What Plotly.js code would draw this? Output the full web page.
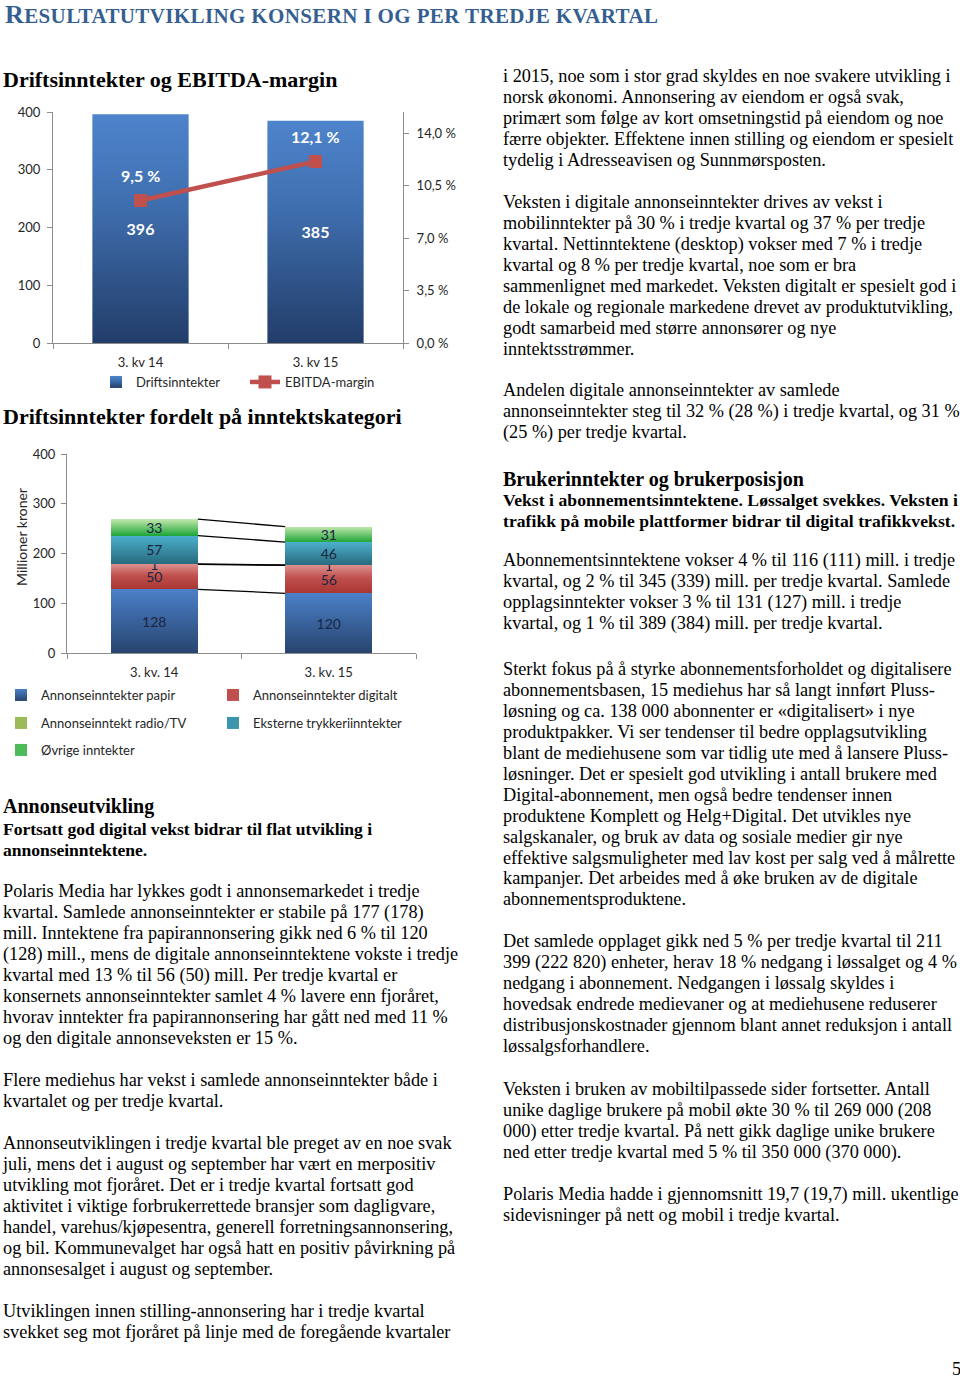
<!DOCTYPE html>
<html>
<head>
<meta charset="utf-8">
<script src="https://cdn.plot.ly/plotly-3.0.1.min.js"></script>
<style>
html,body{margin:0;padding:0;background:#fff;}
#page{position:relative;width:960px;height:1378px;overflow:hidden;background:#fff;}
.t{position:absolute;white-space:nowrap;font-family:"Liberation Serif","Times New Roman",serif;color:#000;}
.body{font-size:18.25px;line-height:20.9px;}
.bold{font-weight:bold;}
.sub{font-size:17.6px;}
.h2{font-size:20px;line-height:24px;font-weight:bold;}
.h1{font-size:22px;line-height:26px;font-weight:bold;}
#title{left:5px;top:0;color:#365f91;font-weight:bold;font-size:21px;line-height:30px;}
#title .cap{font-size:26px;}
.chart{position:absolute;left:0;}
</style>
</head>
<body>
<div id="page">
  <div id="title" class="t"><span class="cap">R</span>ESULTATUTVIKLING KONSERN I OG PER TREDJE KVARTAL</div>

  <div class="t h1" data-b="87" style="left:3px">Driftsinntekter og EBITDA-margin</div>
  <div id="chart1" class="chart" style="top:95px;width:470px;height:300px"></div>

  <div class="t h1" data-b="424" style="left:3px">Driftsinntekter fordelt på inntektskategori</div>
  <div id="chart2" class="chart" style="top:430px;width:470px;height:350px"></div>

  <!-- left column text -->
  <div class="t h2" data-b="813" style="left:3px">Annonseutvikling</div>
  <div class="t body bold sub" data-b="835" data-w="369" style="left:3px"><span class="l1">Fortsatt god digital vekst bidrar til flat utvikling i</span><br>annonseinntektene.</div>
  <div class="t body" data-b="898" style="left:3px">Polaris Media har lykkes godt i annonsemarkedet i tredje<br>kvartal. Samlede annonseinntekter er stabile på 177 (178)<br>mill. Inntektene fra papirannonsering gikk ned 6 % til 120<br>(128) mill., mens de digitale annonseinntektene vokste i tredje<br>kvartal med 13 % til 56 (50) mill. Per tredje kvartal er<br>konsernets annonseinntekter samlet 4 % lavere enn fjoråret,<br>hvorav inntekter fra papirannonsering har gått ned med 11 %<br>og den digitale annonseveksten er 15 %.</div>
  <div class="t body" data-b="1087" style="left:3px">Flere mediehus har vekst i samlede annonseinntekter både i<br>kvartalet og per tredje kvartal.</div>
  <div class="t body" data-b="1150" style="left:3px">Annonseutviklingen i tredje kvartal ble preget av en noe svak<br>juli, mens det i august og september har vært en merpositiv<br>utvikling mot fjoråret. Det er i tredje kvartal fortsatt god<br>aktivitet i viktige forbrukerrettede bransjer som dagligvare,<br>handel, varehus/kjøpesentra, generell forretningsannonsering,<br>og bil. Kommunevalget har også hatt en positiv påvirkning på<br>annonsesalget i august og september.</div>
  <div class="t body" data-b="1318" style="left:3px">Utviklingen innen stilling-annonsering har i tredje kvartal<br>svekket seg mot fjoråret på linje med de foregående kvartaler</div>

  <!-- right column text -->
  <div class="t body" data-b="83" style="left:503px">i 2015, noe som i stor grad skyldes en noe svakere utvikling i<br>norsk økonomi. Annonsering av eiendom er også svak,<br>primært som følge av kort omsetningstid på eiendom og noe<br>færre objekter. Effektene innen stilling og eiendom er spesielt<br>tydelig i Adresseavisen og Sunnmørsposten.</div>
  <div class="t body" data-b="209" style="left:503px">Veksten i digitale annonseinntekter drives av vekst i<br>mobilinntekter på 30 % i tredje kvartal og 37 % per tredje<br>kvartal. Nettinntektene (desktop) vokser med 7 % i tredje<br>kvartal og 8 % per tredje kvartal, noe som er bra<br>sammenlignet med markedet. Veksten digitalt er spesielt god i<br>de lokale og regionale markedene drevet av produktutvikling,<br>godt samarbeid med større annonsører og nye<br>inntektsstrømmer.</div>
  <div class="t body" data-b="397" style="left:503px">Andelen digitale annonseinntekter av samlede<br>annonseinntekter steg til 32 % (28 %) i tredje kvartal, og 31 %<br>(25 %) per tredje kvartal.</div>
  <div class="t h2" data-b="486" style="left:503px">Brukerinntekter og brukerposisjon</div>
  <div class="t body bold sub" data-b="506" data-w="455" style="left:503px"><span class="l1">Vekst i abonnementsinntektene. Løssalget svekkes. Veksten i</span><br>trafikk på mobile plattformer bidrar til digital trafikkvekst.</div>
  <div class="t body" data-b="567" style="left:503px">Abonnementsinntektene vokser 4 % til 116 (111) mill. i tredje<br>kvartal, og 2 % til 345 (339) mill. per tredje kvartal. Samlede<br>opplagsinntekter vokser 3 % til 131 (127) mill. i tredje<br>kvartal, og 1 % til 389 (384) mill. per tredje kvartal.</div>
  <div class="t body" data-b="676" style="left:503px">Sterkt fokus på å styrke abonnementsforholdet og digitalisere<br>abonnementsbasen, 15 mediehus har så langt innført Pluss-<br>løsning og ca. 138 000 abonnenter er «digitalisert» i nye<br>produktpakker. Vi ser tendenser til bedre opplagsutvikling<br>blant de mediehusene som var tidlig ute med å lansere Pluss-<br>løsninger. Det er spesielt god utvikling i antall brukere med<br>Digital-abonnement, men også bedre tendenser innen<br>produktene Komplett og Helg+Digital. Det utvikles nye<br>salgskanaler, og bruk av data og sosiale medier gir nye<br>effektive salgsmuligheter med lav kost per salg ved å målrette<br>kampanjer. Det arbeides med å øke bruken av de digitale<br>abonnementsproduktene.</div>
  <div class="t body" data-b="948" style="left:503px">Det samlede opplaget gikk ned 5 % per tredje kvartal til 211<br>399 (222 820) enheter, herav 18 % nedgang i løssalget og 4 %<br>nedgang i abonnement. Nedgangen i løssalg skyldes i<br>hovedsak endrede medievaner og at mediehusene reduserer<br>distribusjonskostnader gjennom blant annet reduksjon i antall<br>løssalgsforhandlere.</div>
  <div class="t body" data-b="1096" style="left:503px">Veksten i bruken av mobiltilpassede sider fortsetter. Antall<br>unike daglige brukere på mobil økte 30 % til 269 000 (208<br>000) etter tredje kvartal. På nett gikk daglige unike brukere<br>ned etter tredje kvartal med 5 % til 350 000 (370 000).</div>
  <div class="t body" data-b="1201" style="left:503px">Polaris Media hadde i gjennomsnitt 19,7 (19,7) mill. ukentlige<br>sidevisninger på nett og mobil i tredje kvartal.</div>
  <div class="t body" data-b="1376" style="left:952px">5</div>
</div>

<script>
// ---------- DATA ----------
const quarters1 = ['3. kv 14', '3. kv 15'];
const driftsinntekter = [396, 385];          // mill. kr
const ebitdaMargin = [9.5, 12.1];            // %

const quarters2 = ['3. kv. 14', '3. kv. 15'];
const seriesNames = ['Annonseinntekter papir', 'Annonseinntekter digitalt',
  'Annonseinntekt radio/TV', 'Eksterne trykkeriinntekter', 'Øvrige inntekter'];
const annPapir = [128, 120];
const annDigitalt = [50, 56];
const annRadioTV = [1, 1];
const trykkeri = [57, 46];
const ovrige = [33, 31];

// ---------- text sizing / placement ----------
document.querySelectorAll('.t[data-w]').forEach(el => {
  const l1 = el.querySelector('.l1');
  const w = l1.getBoundingClientRect().width;
  const n = l1.textContent.length;
  el.style.letterSpacing = ((parseFloat(el.dataset.w) - w) / n) + 'px';
});
document.querySelectorAll('.t[data-b]').forEach(el => {
  const cs = getComputedStyle(el);
  const F = parseFloat(cs.fontSize), L = parseFloat(cs.lineHeight);
  const off = (L - 1.107 * F) / 2 + 0.891 * F;
  el.style.top = (parseFloat(el.dataset.b) - off) + 'px';
});
(function fitTitle() {
  const t = document.getElementById('title');
  const w = t.getBoundingClientRect().width;
  const n = t.textContent.length;
  t.style.letterSpacing = ((653 - w) / (n - 1)) + 'px';
})();

// ---------- helpers ----------
const NS = 'http://www.w3.org/2000/svg';
function addGradients(gd, grads) {
  const svg = gd.querySelector('svg.main-svg');
  let defs = svg.querySelector('defs');
  if (!defs) { defs = document.createElementNS(NS, 'defs'); svg.insertBefore(defs, svg.firstChild); }
  grads.forEach(g => {
    const lg = document.createElementNS(NS, 'linearGradient');
    lg.setAttribute('id', g.id);
    lg.setAttribute('x1', '0'); lg.setAttribute('y1', '0');
    lg.setAttribute('x2', '0'); lg.setAttribute('y2', '1');
    g.stops.forEach(([o, c]) => {
      const s = document.createElementNS(NS, 'stop');
      s.setAttribute('offset', o); s.setAttribute('stop-color', c);
      lg.appendChild(s);
    });
    defs.appendChild(lg);
  });
  gd.querySelectorAll('.barlayer .trace.bars').forEach((tr, i) => {
    if (grads[i]) tr.querySelectorAll('path').forEach(p => { p.style.fill = 'url(#' + grads[i].id + ')'; });
  });
  gd.querySelectorAll('g.traces').forEach(item => {
    const txt = item.querySelector('.legendtext');
    if (!txt) return;
    const g = grads.find(g => g.name === txt.textContent);
    if (g) item.querySelectorAll('.legendpoints path').forEach(p => { p.style.fill = 'url(#' + g.id + ')'; });
  });
}

const chartFont = 'Lato, "Open Sans", sans-serif';
const tickFont = {family: chartFont, size: 13, color: '#262626'};
const axisCol = '#8c8c8c';
const legendFont = {family: chartFont, size: 13, color: '#262626'};
const fmtPct = v => v.toFixed(1).replace('.', ',') + ' %';

// ---------- CHART 1 ----------
const c1 = document.getElementById('chart1');
Plotly.newPlot(c1, [
  {
    type: 'bar', x: quarters1, y: driftsinntekter, name: 'Driftsinntekter', width: 0.55,
    marker: {color: '#3b679f'},
    text: driftsinntekter.map(String), textposition: 'inside', insidetextanchor: 'middle', textangle: 0,
    textfont: {family: chartFont, size: 16, color: '#ffffff', weight: 'bold'},
    legend: 'legend', hoverinfo: 'skip'
  },
  {
    type: 'scatter', mode: 'lines+markers', x: quarters1, y: ebitdaMargin, yaxis: 'y2',
    name: 'EBITDA-margin',
    line: {color: '#c0504d', width: 4.5},
    marker: {symbol: 'square', size: 13, color: '#c0504d'},
    legend: 'legend2', hoverinfo: 'skip'
  }
], {
  width: 470, height: 300,
  margin: {l: 53, r: 67, t: 17, b: 52},
  paper_bgcolor: 'rgba(0,0,0,0)', plot_bgcolor: 'rgba(0,0,0,0)',
  separators: ', ',
  font: {family: chartFont, size: 13, color: '#262626'},
  xaxis: {type: 'category', tickson: 'boundaries', ticks: 'outside', ticklen: 5, tickcolor: axisCol,
          showline: true, linecolor: axisCol, showgrid: false, zeroline: false, tickfont: tickFont,
          ticklabelstandoff: 7},
  yaxis: {range: [0, 400], dtick: 100, ticks: 'outside', ticklen: 5, tickcolor: axisCol,
          showline: true, linecolor: axisCol, showgrid: false, zeroline: false, tickfont: tickFont,
          ticklabelstandoff: 4},
  yaxis2: {overlaying: 'y', side: 'right', range: [0, 15.4], tick0: 0, dtick: 3.5, tickformat: '.1f',
           ticksuffix: ' %', ticks: 'outside', ticklen: 5, tickcolor: axisCol,
           showline: true, linecolor: axisCol, showgrid: false, zeroline: false, tickfont: tickFont,
           ticklabelstandoff: 5},
  showlegend: true,
  legend: {orientation: 'h', xref: 'container', yref: 'container', x: 96 / 470, y: 1 - 287 / 300,
           xanchor: 'left', yanchor: 'middle', font: legendFont, bgcolor: 'rgba(0,0,0,0)'},
  legend2: {orientation: 'h', xref: 'container', yref: 'container', x: 245 / 470, y: 1 - 287 / 300,
            xanchor: 'left', yanchor: 'middle', font: legendFont, bgcolor: 'rgba(0,0,0,0)'},
  annotations: ebitdaMargin.map((v, i) => ({
    x: quarters1[i], y: v, xref: 'x', yref: 'y2', text: fmtPct(v), showarrow: false, yshift: 25,
    font: {family: chartFont, size: 16, color: '#ffffff', weight: 'bold'}
  }))
}, {staticPlot: true, displayModeBar: false}).then(gd => {
  addGradients(gd, [
    {id: 'g1drift', name: 'Driftsinntekter', stops: [['0', '#4e84cc'], ['0.4', '#3f6eae'], ['1', '#223d69']]}
  ]);
});

// ---------- CHART 2 ----------
const seriesVals = [annPapir, annDigitalt, annRadioTV, trykkeri, ovrige];
const segColors = ['#3f6fb0', '#c0504d', '#9bbb59', '#3d95ad', '#4cbb5a'];
const xPos = quarters2.map((_, i) => i);
const barW = 0.5;
const legendIds = ['legend', 'legend2', 'legend3', 'legend4', 'legend5'];

const traces2 = seriesVals.map((vals, k) => ({
  type: 'bar', x: xPos, y: vals, name: seriesNames[k], width: barW,
  marker: {color: segColors[k]},
  text: vals.map(String), textposition: 'inside', insidetextanchor: 'middle', textangle: 0,
  textfont: {family: chartFont, size: 14, color: '#1c2541'},
  legend: legendIds[k], hoverinfo: 'skip'
}));
// series connector lines between stacked segment tops
const cum = [];
seriesVals.forEach((vals, k) => {
  cum[k] = vals.map((v, i) => v + (k > 0 ? cum[k - 1][i] : 0));
});
cum.forEach(c => {
  traces2.push({
    type: 'scatter', mode: 'lines', x: [xPos[0] + barW / 2, xPos[1] - barW / 2], y: c,
    line: {color: '#000000', width: 1.3}, showlegend: false, hoverinfo: 'skip'
  });
});

const legTextX = [41, 253, 41, 253, 41];
const legRowY = [265, 265, 293, 293, 320];
const legendLayouts = {};
legendIds.forEach((id, k) => {
  legendLayouts[id] = {orientation: 'h', xref: 'container', yref: 'container',
    x: (legTextX[k] - 40) / 470, y: 1 - legRowY[k] / 350, xanchor: 'left', yanchor: 'middle',
    font: legendFont, bgcolor: 'rgba(0,0,0,0)', traceorder: 'normal'};
});

const c2 = document.getElementById('chart2');
Plotly.newPlot(c2, traces2, Object.assign({
  width: 470, height: 350,
  margin: {l: 67, r: 54, t: 24, b: 127},
  barmode: 'stack',
  paper_bgcolor: 'rgba(0,0,0,0)', plot_bgcolor: 'rgba(0,0,0,0)',
  font: {family: chartFont, size: 13, color: '#262626'},
  uniformtext: {mode: 'show', minsize: 14},
  xaxis: {range: [-0.5, 1.5], tickmode: 'array', tickvals: xPos, ticktext: quarters2, ticks: '',
          showline: true, linecolor: axisCol, showgrid: false, zeroline: false, tickfont: tickFont,
          ticklabelstandoff: 7,
          minor: {tickmode: 'array', tickvals: [-0.5, 0.5, 1.5], ticks: 'outside', ticklen: 5,
                  tickcolor: axisCol, showgrid: false}},
  yaxis: {range: [0, 400], dtick: 100, ticks: 'outside', ticklen: 5, tickcolor: axisCol,
          showline: true, linecolor: axisCol, showgrid: false, zeroline: false, tickfont: tickFont,
          ticklabelstandoff: 3},
  showlegend: true,
  annotations: [{
    text: 'Millioner kroner', textangle: -90, xref: 'paper', yref: 'paper', x: 0, y: 0.583,
    xshift: -45, xanchor: 'center', yanchor: 'middle', showarrow: false,
    font: {family: chartFont, size: 14, color: '#262626'}
  }]
}, legendLayouts), {staticPlot: true, displayModeBar: false}).then(gd => {
  addGradients(gd, [
    {id: 'g2papir', name: seriesNames[0], stops: [['0', '#4b80c8'], ['1', '#27446f']]},
    {id: 'g2digi', name: seriesNames[1], stops: [['0', '#dc8f8d'], ['0.45', '#c0504d'], ['1', '#a83633']]},
    {id: 'g2radio', name: seriesNames[2], stops: [['0', '#b5cf85'], ['1', '#84a243']]},
    {id: 'g2tryk', name: seriesNames[3], stops: [['0', '#4cb0cc'], ['1', '#286a7e']]},
    {id: 'g2ovr', name: seriesNames[4], stops: [['0', '#c2e8ac'], ['1', '#20a63a']]}
  ]);
});
</script>
</body>
</html>
